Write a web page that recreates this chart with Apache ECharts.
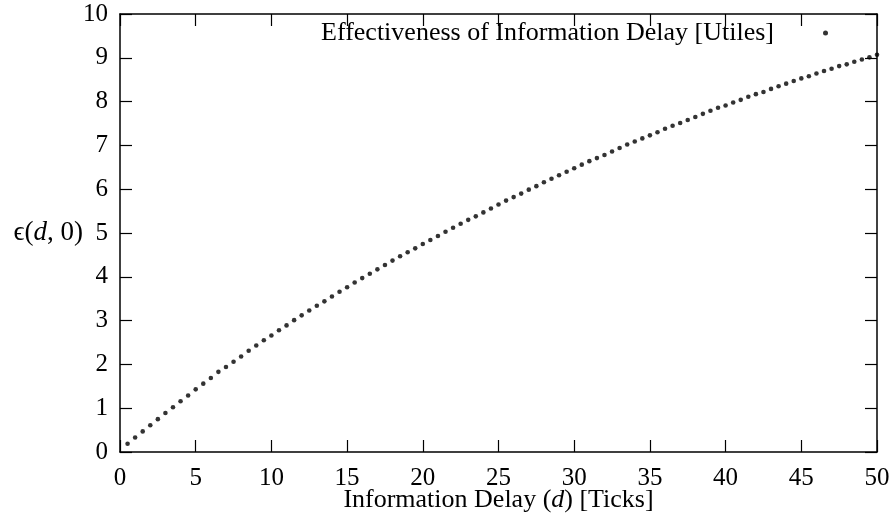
<!DOCTYPE html>
<html>
<head>
<meta charset="utf-8">
<script src="https://cdn.jsdelivr.net/npm/echarts@6/dist/echarts.min.js"></script>
<style>html,body{margin:0;padding:0;background:#fff}#c{width:892px;height:518px}</style>
</head>
<body>
<div id="c"></div>
<script>
const seriesName = 'Effectiveness of Information Delay [Utiles]';
const xTickLabels = [0, 5, 10, 15, 20, 25, 30, 35, 40, 45, 50];
const yTickLabels = [0, 1, 2, 3, 4, 5, 6, 7, 8, 9, 10];
const delay = [
  0.5, 1, 1.5, 2, 2.5, 3, 3.5, 4, 4.5, 5,
  5.5, 6, 6.5, 7, 7.5, 8, 8.5, 9, 9.5, 10,
  10.5, 11, 11.5, 12, 12.5, 13, 13.5, 14, 14.5, 15,
  15.5, 16, 16.5, 17, 17.5, 18, 18.5, 19, 19.5, 20,
  20.5, 21, 21.5, 22, 22.5, 23, 23.5, 24, 24.5, 25,
  25.5, 26, 26.5, 27, 27.5, 28, 28.5, 29, 29.5, 30,
  30.5, 31, 31.5, 32, 32.5, 33, 33.5, 34, 34.5, 35,
  35.5, 36, 36.5, 37, 37.5, 38, 38.5, 39, 39.5, 40,
  40.5, 41, 41.5, 42, 42.5, 43, 43.5, 44, 44.5, 45,
  45.5, 46, 46.5, 47, 47.5, 48, 48.5, 49, 49.5, 50
];
const effectiveness = [
  0.19, 0.33, 0.47, 0.61, 0.75, 0.89, 1.02, 1.16, 1.29, 1.43,
  1.56, 1.69, 1.83, 1.94, 2.06, 2.18, 2.31, 2.43, 2.55, 2.66,
  2.78, 2.89, 3.01, 3.12, 3.23, 3.34, 3.44, 3.55, 3.66, 3.76,
  3.87, 3.97, 4.07, 4.17, 4.27, 4.37, 4.47, 4.56, 4.65, 4.75,
  4.84, 4.93, 5.03, 5.12, 5.21, 5.30, 5.38, 5.47, 5.56, 5.65,
  5.74, 5.82, 5.90, 5.99, 6.07, 6.16, 6.24, 6.32, 6.40, 6.48,
  6.56, 6.64, 6.71, 6.78, 6.86, 6.94, 7.02, 7.09, 7.16, 7.23,
  7.30, 7.38, 7.45, 7.51, 7.58, 7.65, 7.72, 7.79, 7.86, 7.91,
  7.98, 8.04, 8.11, 8.17, 8.22, 8.29, 8.35, 8.41, 8.47, 8.53,
  8.58, 8.64, 8.70, 8.75, 8.81, 8.85, 8.91, 8.96, 9.01, 9.07
];

const FONT = 'Liberation Serif';
const FS = 25;
const chart = echarts.init(document.getElementById('c'), null, {renderer: 'canvas'});

const axisLineStyle = {color: '#000', width: 1.5};
const tickStyle = {show: true, inside: true, length: 12, lineStyle: {color: '#000', width: 1.2}};
const xMin = xTickLabels[0], xMax = xTickLabels[xTickLabels.length - 1];
const xInt = xTickLabels[1] - xTickLabels[0];
const yMin = yTickLabels[0], yMax = yTickLabels[yTickLabels.length - 1];
const yInt = yTickLabels[1] - yTickLabels[0];

chart.setOption({
  animation: false,
  backgroundColor: '#fff',
  grid: {left: 120, right: 15, top: 14, bottom: 66, outerBoundsMode: 'none'},
  legend: {
    data: [seriesName],
    align: 'right',
    right: 59,
    top: 15,
    icon: 'circle',
    itemWidth: 5,
    itemHeight: 5,
    textStyle: {fontFamily: FONT, fontSize: 26, color: '#000', padding: [0, 44, 0, 0]}
  },
  xAxis: [{
    type: 'value', position: 'bottom', min: xMin, max: xMax, interval: xInt,
    axisLine: {show: true, onZero: false, lineStyle: axisLineStyle},
    axisTick: tickStyle,
    splitLine: {show: false},
    axisLabel: {fontFamily: FONT, fontSize: FS, color: '#000', margin: 14},
    name: '{n|Information Delay (}{i|d}{n|) [Ticks]}',
    nameLocation: 'middle',
    nameGap: 35,
    nameMoveOverlap: false,
    nameTextStyle: {
      rich: {
        n: {fontFamily: FONT, fontSize: 26, color: '#000'},
        i: {fontFamily: FONT, fontSize: 26, color: '#000', fontStyle: 'italic'}
      }
    }
  }, {
    type: 'value', position: 'top', min: xMin, max: xMax, interval: xInt,
    axisLine: {show: true, onZero: false, lineStyle: axisLineStyle},
    axisTick: tickStyle,
    splitLine: {show: false},
    axisLabel: {show: false}
  }],
  yAxis: [{
    type: 'value', position: 'left', min: yMin, max: yMax, interval: yInt,
    axisLine: {show: true, onZero: false, lineStyle: axisLineStyle},
    axisTick: tickStyle,
    splitLine: {show: false},
    axisLabel: {fontFamily: FONT, fontSize: FS, color: '#000', margin: 12},
    name: '{n|ϵ(}{i|d}{n|, 0)}',
    nameLocation: 'middle',
    nameRotate: 0,
    nameGap: 37,
    nameMoveOverlap: false,
    nameTextStyle: {
      align: 'right',
      rich: {
        n: {fontFamily: FONT, fontSize: 27, color: '#000'},
        i: {fontFamily: FONT, fontSize: 27, color: '#000', fontStyle: 'italic'}
      }
    }
  }, {
    type: 'value', position: 'right', min: yMin, max: yMax, interval: yInt,
    axisLine: {show: true, onZero: false, lineStyle: axisLineStyle},
    axisTick: tickStyle,
    splitLine: {show: false},
    axisLabel: {show: false}
  }],
  series: [{
    name: seriesName,
    type: 'scatter',
    xAxisIndex: 0,
    yAxisIndex: 0,
    symbol: 'circle',
    symbolSize: 4.6,
    itemStyle: {color: '#000'},
    data: delay.map((d, i) => [d, effectiveness[i]])
  }]
});
</script>
</body>
</html>
